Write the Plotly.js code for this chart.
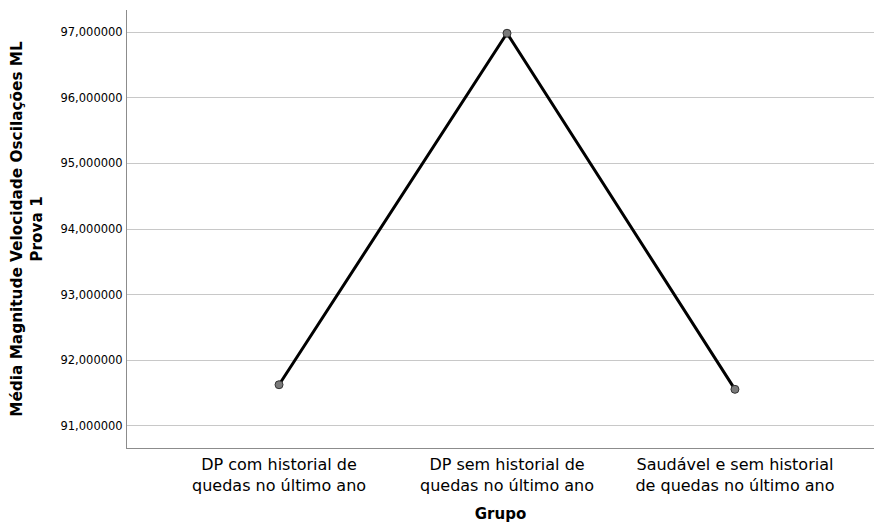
<!DOCTYPE html>
<html>
<head>
<meta charset="utf-8">
<script src="https://cdn.plot.ly/plotly-3.0.1.min.js"></script>
<style>html,body{margin:0;padding:0;background:#fff;}#chart{width:874px;height:523px;}</style>
</head>
<body>
<div id="chart"></div>
<script>
const categories = [
  "DP com historial de<br>quedas no último ano",
  "DP sem historial de<br>quedas no último ano",
  "Saudável e sem historial<br>de quedas no último ano"
];
const means = [91.625, 96.985, 91.555];
const yTickVals = [91, 92, 93, 94, 95, 96, 97];

const trace = {
  x: categories,
  y: means,
  type: "scatter",
  mode: "lines+markers",
  line: {color: "#000000", width: 3},
  marker: {size: 8, color: "#7a7a7a", line: {color: "#333333", width: 1}},
  showlegend: false,
  hoverinfo: "skip"
};

const layout = {
  width: 874,
  height: 523,
  margin: {l: 127, r: 0, t: 10, b: 75},
  paper_bgcolor: "#ffffff",
  plot_bgcolor: "#ffffff",
  separators: ",.",
  font: {family: "DejaVu Sans", color: "#000000"},
  xaxis: {
    type: "category",
    range: [-0.667, 2.61],
    showgrid: false,
    zeroline: false,
    showline: true,
    linecolor: "#8c8c8c",
    linewidth: 1,
    ticks: "",
    ticklabelstandoff: 2,
    tickfont: {family: "DejaVu Sans", size: 16, color: "#000000"},
    automargin: false,
    title: {text: "<b>Grupo</b>", font: {family: "DejaVu Sans", size: 15, color: "#000000"}, standoff: 17}
  },
  yaxis: {
    range: [90.66, 97.34],
    tickvals: yTickVals,
    tickformat: ".6f",
    showgrid: true,
    gridcolor: "#c8c8c8",
    gridwidth: 1,
    zeroline: false,
    showline: true,
    linecolor: "#8c8c8c",
    linewidth: 1,
    ticks: "",
    ticklabelstandoff: 1,
    tickfont: {family: "DejaVu Sans", size: 11.5, color: "#000000"},
    automargin: false,
    title: {text: "<b>Média Magnitude Velocidade Oscilações ML<br>Prova 1</b>", font: {family: "DejaVu Sans", size: 15.3, color: "#000000"}, standoff: 14}
  }
};

Plotly.newPlot("chart", [trace], layout, {displayModeBar: false, staticPlot: true});
</script>
</body>
</html>
